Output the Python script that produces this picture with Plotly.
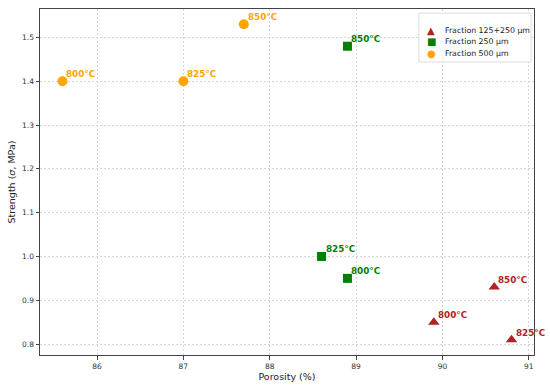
import plotly.graph_objects as go

# Data
labels = ["800°C", "825°C", "850°C"]
f125_x = [89.9, 90.8, 90.6]
f125_y = [0.85, 0.81, 0.93]
f250_x = [88.9, 88.6, 88.9]
f250_y = [0.95, 1.00, 1.48]
f500_x = [85.6, 87.0, 87.7]
f500_y = [1.40, 1.40, 1.53]

x_ticks = [86, 87, 88, 89, 90, 91]
y_ticks = [0.8, 0.9, 1.0, 1.1, 1.2, 1.3, 1.4, 1.5]

series = [
    ("Fraction 125+250 µm", f125_x, f125_y, "#B22222", "triangle-up", 10, "▲"),
    ("Fraction 250 µm", f250_x, f250_y, "#008000", "square", 9, "■"),
    ("Fraction 500 µm", f500_x, f500_y, "#FFA500", "circle", 10, "●"),
]

FONT = "DejaVu Sans"
fig = go.Figure()
annotations = []
for name, xs, ys, color, sym, size, glyph in series:
    fig.add_trace(go.Scatter(
        x=xs, y=ys, mode="markers", name=name, showlegend=False,
        marker=dict(color=color, symbol=sym, size=size, line=dict(width=0)),
    ))
    for x, y, t in zip(xs, ys, labels):
        annotations.append(dict(
            x=x, y=y, text=f"<b>{t}</b>", showarrow=False,
            xanchor="left", yanchor="bottom", xshift=2, yshift=0,
            font=dict(color=color, size=8.8, family=FONT),
        ))

# compact legend (matplotlib-like spacing)
legend_rows_y = [0.939, 0.905, 0.872]
for (name, xs, ys, color, sym, size, glyph), ry in zip(series, legend_rows_y):
    annotations.append(dict(xref="paper", yref="paper", x=0.792, y=ry, text=glyph,
                            showarrow=False, xanchor="center", yanchor="middle",
                            font=dict(color=color, size=10, family=FONT)))
    annotations.append(dict(xref="paper", yref="paper", x=0.816, y=ry, text=name,
                            showarrow=False, xanchor="left", yanchor="middle",
                            font=dict(color="#222222", size=7.8, family=FONT)))

shapes = [dict(type="rect", xref="paper", yref="paper", x0=0.767, x1=0.994, y0=0.847, y1=0.988,
               line=dict(color="#dddddd", width=1), fillcolor="rgba(255,255,255,0.85)", layer="above")]

axcommon = dict(showgrid=True, gridcolor="#d6d6d6", griddash="2px,2px", gridwidth=0.8,
                showline=True, linecolor="#444444", linewidth=1, mirror=True,
                ticks="outside", ticklen=3.5, tickcolor="#444444", zeroline=False,
                automargin=True,
                tickfont=dict(size=7.5, family=FONT, color="#333333"))

fig.update_layout(
    width=550, height=388,
    margin=dict(l=40, r=16, t=9, b=33, autoexpand=False),
    plot_bgcolor="white", paper_bgcolor="white",
    font=dict(family=FONT, color="#222222"),
    xaxis=dict(range=[85.34, 91.06], tickvals=x_ticks,
               title=dict(text="Porosity (%)", font=dict(size=9.5), standoff=3), **axcommon),
    yaxis=dict(range=[0.775, 1.565], tickvals=y_ticks, tickformat=".1f",
               title=dict(text="Strength (<i>σ</i>, MPa)", font=dict(size=9.5), standoff=4), **axcommon),
    annotations=annotations,
    shapes=shapes,
    showlegend=False,
)

fig.write_html("out.html", config={"displayModeBar": False},
               post_script="document.body.style.margin='0';document.body.style.padding='0';")
